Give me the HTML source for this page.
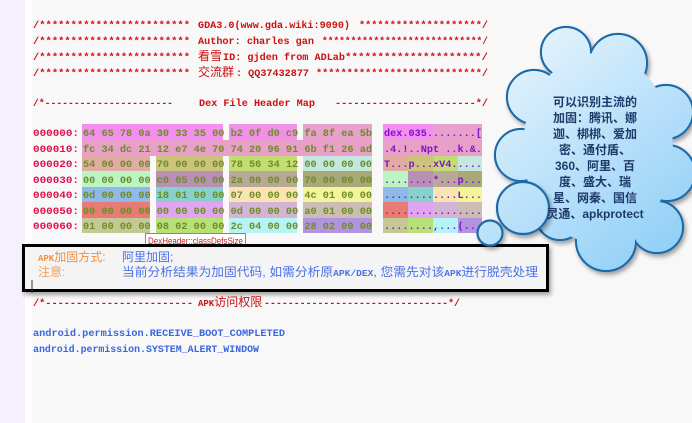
<!DOCTYPE html>
<html><head><meta charset="utf-8"><style>
html,body{margin:0;padding:0;background:#fff;}
svg{display:block;}
.m{font-family:"Liberation Mono",monospace;font-weight:bold;font-size:10px;}
.c{font-family:"Liberation Sans","Noto Sans CJK SC",sans-serif;}
</style></head><body>
<svg width="692" height="423" viewBox="0 0 692 423" xmlns="http://www.w3.org/2000/svg">
<defs>
<linearGradient id="g" gradientUnits="userSpaceOnUse" x1="510" y1="40" x2="690" y2="260">
<stop offset="0" stop-color="#e6f4fd"/><stop offset="1" stop-color="#8ccdf7"/></linearGradient>
<filter id="sh" x="-10%" y="-10%" width="130%" height="140%"><feDropShadow dx="2" dy="3" stdDeviation="2" flood-color="#000" flood-opacity="0.35"/></filter>
</defs>
<rect x="0" y="0" width="692" height="423" fill="#fff"/>
<rect x="0" y="0" width="25" height="423" fill="#f6effc"/>
<rect x="32" y="0" width="660" height="423" fill="#f8f8f8"/>

<g class="m" fill="#cc1010">
<text x="33" y="28" textLength="157" lengthAdjust="spacingAndGlyphs">/************************</text>
<text x="198" y="28" textLength="152" lengthAdjust="spacingAndGlyphs">GDA3.0(www.gda.wiki:9090)</text>
<text x="359" y="28" textLength="129" lengthAdjust="spacingAndGlyphs">********************/</text>
<text x="33" y="44" textLength="157" lengthAdjust="spacingAndGlyphs">/************************</text>
<text x="198" y="44" textLength="116" lengthAdjust="spacingAndGlyphs">Author: charles gan</text>
<text x="322" y="44" textLength="166" lengthAdjust="spacingAndGlyphs">****************************/</text>
<text x="33" y="60" textLength="157" lengthAdjust="spacingAndGlyphs">/************************</text>
<text x="198" y="60" class="c" font-weight="normal" font-size="12">看雪</text>
<text x="223" y="60" textLength="122" lengthAdjust="spacingAndGlyphs">ID: gjden from ADLab</text>
<text x="345" y="60" textLength="143" lengthAdjust="spacingAndGlyphs">*********************/</text>
<text x="33" y="76" textLength="157" lengthAdjust="spacingAndGlyphs">/************************</text>
<text x="198" y="76" class="c" font-weight="normal" font-size="12">交流群</text>
<text x="236" y="76" textLength="73" lengthAdjust="spacingAndGlyphs">: QQ37432877</text>
<text x="316" y="76" textLength="172" lengthAdjust="spacingAndGlyphs">***************************/</text>
<text x="33" y="106" textLength="140" lengthAdjust="spacingAndGlyphs">/*----------------------</text>
<text x="199" y="106" textLength="116" lengthAdjust="spacingAndGlyphs">Dex File Header Map</text>
<text x="335" y="106" textLength="153" lengthAdjust="spacingAndGlyphs">-----------------------*/</text>
</g>

<g>
<rect x="82" y="124" width="141" height="16" fill="#f48ef0"/><rect x="229" y="124" width="68" height="16" fill="#f090e8"/><rect x="303" y="124" width="69" height="16" fill="#e8a0cc"/>
<rect x="82" y="140" width="290" height="16" fill="#e8a0c8"/>
<rect x="82" y="156" width="68" height="15" fill="#e0aca4"/><rect x="156" y="156" width="67" height="15" fill="#ccc47c"/><rect x="229" y="156" width="68" height="15" fill="#c4dc74"/><rect x="303" y="156" width="69" height="15" fill="#c4e8e0"/>
<rect x="82" y="171" width="68" height="16" fill="#bcf4c4"/><rect x="156" y="171" width="67" height="16" fill="#b890b4"/><rect x="229" y="171" width="68" height="16" fill="#b8a898"/><rect x="303" y="171" width="69" height="16" fill="#a8a878"/>
<rect x="82" y="187" width="68" height="15" fill="#90b8e8"/><rect x="156" y="187" width="67" height="15" fill="#88d0cc"/><rect x="229" y="187" width="68" height="15" fill="#fae4b4"/><rect x="303" y="187" width="69" height="15" fill="#f4f49c"/>
<rect x="82" y="202" width="68" height="16" fill="#e87c74"/><rect x="156" y="202" width="67" height="16" fill="#e0a4f0"/><rect x="229" y="202" width="68" height="16" fill="#d4b4d4"/><rect x="303" y="202" width="69" height="16" fill="#ccbcb4"/>
<rect x="82" y="218" width="68" height="15" fill="#c4c894"/><rect x="156" y="218" width="67" height="15" fill="#b8e078"/><rect x="229" y="218" width="68" height="15" fill="#b4f4f4"/><rect x="303" y="218" width="69" height="15" fill="#b094e0"/>
<rect x="383" y="124" width="50" height="16" fill="#f48ef0"/><rect x="433" y="124" width="49" height="16" fill="#e8a0cc"/>
<rect x="383" y="140" width="99" height="16" fill="#e8a0c8"/>
<rect x="383" y="156" width="25" height="15" fill="#e0aca4"/><rect x="408" y="156" width="25" height="15" fill="#ccc47c"/><rect x="433" y="156" width="25" height="15" fill="#c4dc74"/><rect x="458" y="156" width="24" height="15" fill="#c4e8e0"/>
<rect x="383" y="171" width="25" height="16" fill="#bcf4c4"/><rect x="408" y="171" width="25" height="16" fill="#b890b4"/><rect x="433" y="171" width="25" height="16" fill="#b8a898"/><rect x="458" y="171" width="24" height="16" fill="#a8a878"/>
<rect x="383" y="187" width="25" height="15" fill="#90b8e8"/><rect x="408" y="187" width="25" height="15" fill="#88d0cc"/><rect x="433" y="187" width="25" height="15" fill="#fae4b4"/><rect x="458" y="187" width="24" height="15" fill="#f4f49c"/>
<rect x="383" y="202" width="25" height="16" fill="#e87c74"/><rect x="408" y="202" width="25" height="16" fill="#e0a4f0"/><rect x="433" y="202" width="25" height="16" fill="#d4b4d4"/><rect x="458" y="202" width="24" height="16" fill="#ccbcb4"/>
<rect x="383" y="218" width="25" height="15" fill="#c4c894"/><rect x="408" y="218" width="25" height="15" fill="#b8e078"/><rect x="433" y="218" width="25" height="15" fill="#b4f4f4"/><rect x="458" y="218" width="24" height="15" fill="#b094e0"/>
</g>

<g class="m" fill="#e0104c">
<text x="33" y="136" textLength="46" lengthAdjust="spacingAndGlyphs">000000:</text>
<text x="33" y="152" textLength="46" lengthAdjust="spacingAndGlyphs">000010:</text>
<text x="33" y="167" textLength="46" lengthAdjust="spacingAndGlyphs">000020:</text>
<text x="33" y="183" textLength="46" lengthAdjust="spacingAndGlyphs">000030:</text>
<text x="33" y="198" textLength="46" lengthAdjust="spacingAndGlyphs">000040:</text>
<text x="33" y="214" textLength="46" lengthAdjust="spacingAndGlyphs">000050:</text>
<text x="33" y="229" textLength="46" lengthAdjust="spacingAndGlyphs">000060:</text>
</g>
<g class="m" fill="#6e8c24" font-weight="normal">
<text x="83" y="136" textLength="289" lengthAdjust="spacingAndGlyphs">64 65 78 0a 30 33 35 00 b2 0f d0 c9 fa 8f ea 5b</text>
<text x="83" y="152" textLength="289" lengthAdjust="spacingAndGlyphs">fc 34 dc 21 12 e7 4e 70 74 20 96 91 6b f1 26 ad</text>
<text x="83" y="167" textLength="289" lengthAdjust="spacingAndGlyphs">54 06 00 00 70 00 00 00 78 56 34 12 00 00 00 00</text>
<text x="83" y="183" textLength="289" lengthAdjust="spacingAndGlyphs">00 00 00 00 c0 05 00 00 2a 00 00 00 70 00 00 00</text>
<text x="83" y="198" textLength="289" lengthAdjust="spacingAndGlyphs">0d 00 00 00 18 01 00 00 07 00 00 00 4c 01 00 00</text>
<text x="83" y="214" textLength="289" lengthAdjust="spacingAndGlyphs">00 00 00 00 00 00 00 00 0d 00 00 00 a0 01 00 00</text>
<text x="83" y="229" textLength="289" lengthAdjust="spacingAndGlyphs">01 00 00 00 08 02 00 00 2c 04 00 00 28 02 00 00</text>
</g>
<g class="m" fill="#8010d0">
<text x="384" y="136" textLength="98" lengthAdjust="spacingAndGlyphs">dex.035........[</text>
<text x="384" y="152" textLength="98" lengthAdjust="spacingAndGlyphs">.4.!..Npt ..k.&amp;.</text>
<text x="384" y="167" textLength="98" lengthAdjust="spacingAndGlyphs">T...p...xV4.....</text>
<text x="384" y="183" textLength="98" lengthAdjust="spacingAndGlyphs">........*...p...</text>
<text x="384" y="198" textLength="98" lengthAdjust="spacingAndGlyphs">............L...</text>
<text x="384" y="214" textLength="98" lengthAdjust="spacingAndGlyphs">................</text>
<text x="384" y="229" textLength="98" lengthAdjust="spacingAndGlyphs">........,...(...</text>
</g>

<rect x="145.5" y="233.5" width="100" height="13" fill="#fff" stroke="#888"/>
<text x="148" y="244" font-family="Liberation Sans,sans-serif" font-size="9" fill="#cc2020" textLength="95" lengthAdjust="spacingAndGlyphs">DexHeader::classDefsSize</text>

<g filter="url(#sh)"><rect x="23.5" y="245.5" width="524" height="45" fill="#f4f4f4" stroke="#000" stroke-width="3"/></g>
<line x1="32" y1="280" x2="32" y2="293" stroke="#333" stroke-width="1"/>
<text x="38" y="261" class="c" font-size="12" fill="#f09040"><tspan font-family="Liberation Mono" font-weight="bold" font-size="9">APK</tspan>加固方式:</text>
<text x="122" y="261" class="c" font-size="12" fill="#4a70e8">阿里加固;</text>
<text x="38" y="276" class="c" font-size="12" fill="#f4a060">注意:</text>
<text x="122" y="276" class="c" font-size="12" fill="#4a70e8" textLength="416" lengthAdjust="spacingAndGlyphs">当前分析结果为加固代码, 如需分析原<tspan font-family="Liberation Mono" font-weight="bold" font-size="9">APK/DEX</tspan>, 您需先对该<tspan font-family="Liberation Mono" font-weight="bold" font-size="9">APK</tspan>进行脱壳处理</text>

<text x="33" y="306" class="m" fill="#cc1010" textLength="160" lengthAdjust="spacingAndGlyphs">/*------------------------</text>
<text x="198" y="306" class="c" font-size="12" fill="#cc1010"><tspan font-family="Liberation Mono" font-weight="bold" font-size="9">APK</tspan>访问权限</text>
<text x="264" y="306" class="m" fill="#cc1010" textLength="196" lengthAdjust="spacingAndGlyphs">-------------------------------*/</text>
<text x="33" y="336" class="m" fill="#3a66e0" textLength="252" lengthAdjust="spacingAndGlyphs">android.permission.RECEIVE_BOOT_COMPLETED</text>
<text x="33" y="352" class="m" fill="#3a66e0" textLength="226" lengthAdjust="spacingAndGlyphs">android.permission.SYSTEM_ALERT_WINDOW</text>

<!-- cloud -->
<g filter="url(#sh)">
<g fill="url(#g)" stroke="#1f6aa8" stroke-width="2.2">
<circle cx="566" cy="52" r="25"/>
<circle cx="618" cy="63" r="29"/>
<circle cx="666" cy="112" r="27"/>
<circle cx="667" cy="173" r="28"/>
<circle cx="657" cy="227" r="26"/>
<circle cx="606" cy="241" r="30"/>
<circle cx="560" cy="216" r="24"/>
<circle cx="521" cy="155" r="26"/>
<circle cx="534" cy="97" r="27"/>
</g>
</g>
<g fill="url(#g)">
<circle cx="566" cy="52" r="24"/>
<circle cx="618" cy="63" r="28"/>
<circle cx="666" cy="112" r="26"/>
<circle cx="667" cy="173" r="27"/>
<circle cx="657" cy="227" r="25"/>
<circle cx="606" cy="241" r="29"/>
<circle cx="560" cy="216" r="23"/>
<circle cx="521" cy="155" r="25"/>
<circle cx="534" cy="97" r="26"/>
<ellipse cx="598" cy="148" rx="75" ry="95"/>
</g>
<g filter="url(#sh)" fill="url(#g)" stroke="#1f6aa8" stroke-width="2.2">
<circle cx="523" cy="208" r="26"/>
<circle cx="490" cy="233" r="12.5"/>
</g>
<g class="c" font-size="12" font-weight="bold" fill="#1f3a6a" text-anchor="middle">
<text x="595" y="106">可以识别主流的</text>
<text x="595" y="122">加固：腾讯、娜</text>
<text x="595" y="138">迦、梆梆、爱加</text>
<text x="595" y="154">密、通付盾、</text>
<text x="595" y="170">360、阿里、百</text>
<text x="595" y="186">度、盛大、瑞</text>
<text x="595" y="202">星、网秦、国信</text>
<text x="595" y="218">灵通、apkprotect</text>
</g>
</svg>
</body></html>
